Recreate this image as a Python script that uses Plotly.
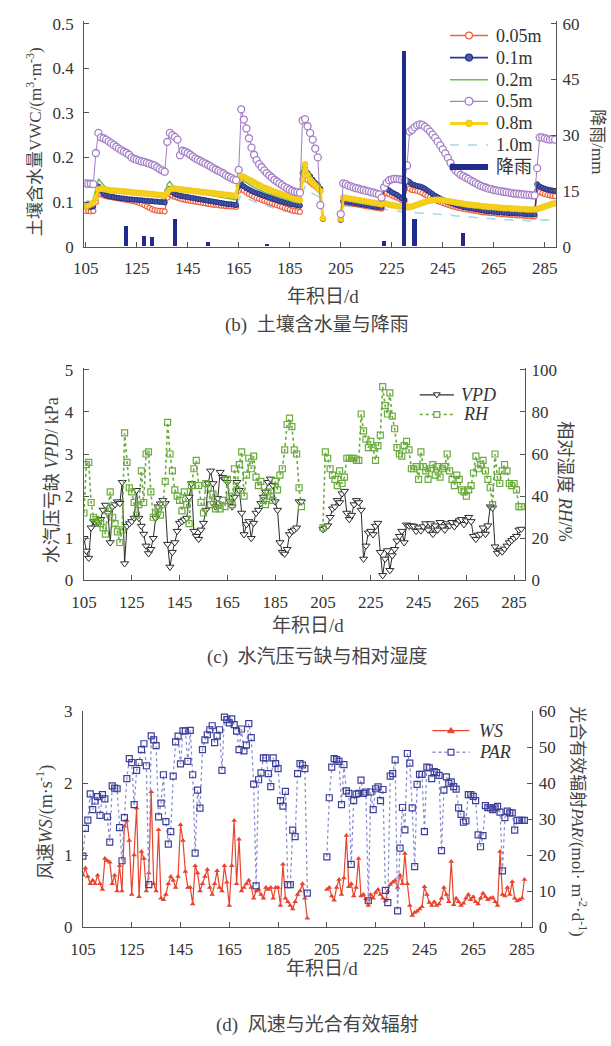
import plotly.graph_objects as go

W, H = 611, 1046
def fx(p): return p / W
def fy(p): return 1 - p / H

SERIF = "Liberation Serif, Times New Roman, Noto Sans CJK SC, serif"

# ---------------- panel (b) soil water content & rain ----------------
days_b_a = list(range(105, 199))   # 105..198
days_b_b = list(range(205, 290))   # 205..289

vwc_005_a = [0.080, 0.080, 0.079, 0.080, 0.100, 0.120, 0.118, 0.115, 0.113, 0.112,
             0.111, 0.110, 0.109, 0.108, 0.107, 0.106, 0.105, 0.104, 0.103, 0.102,
             0.100, 0.098, 0.096, 0.093, 0.090, 0.087, 0.084, 0.082, 0.081, 0.080,
             0.080, 0.079, 0.110, 0.118, 0.115, 0.112, 0.110, 0.108, 0.106, 0.105,
             0.104, 0.103, 0.102, 0.101, 0.100, 0.099, 0.098, 0.097, 0.096, 0.095,
             0.094, 0.094, 0.093, 0.092, 0.092, 0.091, 0.091, 0.090, 0.090, 0.089,
             0.125, 0.130, 0.126, 0.122, 0.118, 0.115, 0.112, 0.109, 0.107, 0.105,
             0.103, 0.101, 0.099, 0.097, 0.095, 0.093, 0.091, 0.089, 0.087, 0.085,
             0.083, 0.081, 0.080, 0.079, 0.078, 0.150, 0.160, 0.150, 0.145, 0.140,
             0.135, 0.130, 0.125, 0.062]
vwc_005_b = [0.060, 0.100, 0.099, 0.098, 0.097, 0.096, 0.095, 0.094, 0.093, 0.092,
             0.091, 0.090, 0.089, 0.088, 0.087, 0.086, 0.085, 0.118, 0.120, 0.118,
             0.115, 0.112, 0.110, 0.107, 0.104, 0.102, 0.135, 0.130, 0.127, 0.126,
             0.125, 0.123, 0.120, 0.117, 0.114, 0.111, 0.108, 0.105, 0.102, 0.100,
             0.098, 0.096, 0.094, 0.092, 0.090, 0.089, 0.087, 0.086, 0.085, 0.084,
             0.083, 0.082, 0.081, 0.080, 0.079, 0.078, 0.077, 0.077, 0.076, 0.075,
             0.075, 0.074, 0.074, 0.073, 0.073, 0.072, 0.072, 0.071, 0.071, 0.070,
             0.070, 0.070, 0.069, 0.069, 0.069, 0.068, 0.068, 0.125, 0.122, 0.120,
             0.118, 0.116, 0.115, 0.114, 0.113]

vwc_01_a = [0.090, 0.090, 0.089, 0.090, 0.110, 0.135, 0.125, 0.118, 0.115, 0.113,
            0.112, 0.111, 0.110, 0.109, 0.108, 0.108, 0.107, 0.106, 0.106, 0.105,
            0.105, 0.104, 0.104, 0.103, 0.103, 0.102, 0.102, 0.101, 0.101, 0.100,
            0.100, 0.099, 0.125, 0.130, 0.122, 0.118, 0.116, 0.114, 0.113, 0.112,
            0.111, 0.110, 0.109, 0.108, 0.107, 0.106, 0.105, 0.104, 0.103, 0.102,
            0.101, 0.100, 0.099, 0.098, 0.097, 0.096, 0.095, 0.095, 0.094, 0.093,
            0.135, 0.140, 0.135, 0.131, 0.128, 0.125, 0.122, 0.120, 0.118, 0.116,
            0.114, 0.112, 0.110, 0.108, 0.106, 0.104, 0.102, 0.101, 0.099, 0.098,
            0.096, 0.095, 0.094, 0.093, 0.092, 0.165, 0.175, 0.165, 0.158, 0.150,
            0.143, 0.138, 0.130, 0.062]
vwc_01_b = [0.060, 0.102, 0.101, 0.100, 0.099, 0.098, 0.097, 0.096, 0.095, 0.094,
            0.093, 0.092, 0.091, 0.090, 0.089, 0.089, 0.088, 0.133, 0.130, 0.126,
            0.122, 0.119, 0.116, 0.112, 0.108, 0.105, 0.148, 0.145, 0.140, 0.138,
            0.136, 0.135, 0.133, 0.130, 0.126, 0.122, 0.118, 0.114, 0.111, 0.108,
            0.105, 0.102, 0.100, 0.098, 0.096, 0.094, 0.092, 0.091, 0.089, 0.088,
            0.087, 0.086, 0.085, 0.084, 0.083, 0.082, 0.081, 0.080, 0.079, 0.079,
            0.078, 0.078, 0.077, 0.077, 0.076, 0.076, 0.075, 0.075, 0.075, 0.074,
            0.074, 0.074, 0.073, 0.073, 0.073, 0.072, 0.072, 0.140, 0.135, 0.132,
            0.130, 0.128, 0.127, 0.126, 0.125]

vwc_02_a = [0.100, 0.102, 0.100, 0.105, 0.130, 0.152, 0.145, 0.138, 0.132, 0.128,
            0.126, 0.125, 0.124, 0.123, 0.122, 0.122, 0.121, 0.120, 0.120, 0.119,
            0.118, 0.118, 0.117, 0.116, 0.115, 0.115, 0.114, 0.113, 0.112, 0.111,
            0.110, 0.109, 0.140, 0.146, 0.138, 0.132, 0.129, 0.127, 0.126, 0.125,
            0.124, 0.123, 0.122, 0.121, 0.120, 0.119, 0.118, 0.117, 0.116, 0.115,
            0.114, 0.113, 0.112, 0.111, 0.110, 0.109, 0.108, 0.107, 0.106, 0.105,
            0.145, 0.152, 0.147, 0.143, 0.139, 0.136, 0.133, 0.130, 0.127, 0.125,
            0.122, 0.120, 0.118, 0.116, 0.114, 0.112, 0.110, 0.108, 0.106, 0.105,
            0.103, 0.101, 0.100, 0.099, 0.098, 0.180, 0.188, 0.170, 0.160, 0.152,
            0.146, 0.140, 0.130, 0.063]
vwc_02_b = [0.062, 0.106, 0.105, 0.104, 0.103, 0.102, 0.101, 0.100, 0.099, 0.098,
            0.097, 0.096, 0.095, 0.094, 0.093, 0.092, 0.091, 0.100, 0.098, 0.096,
            0.094, 0.093, 0.092, 0.091, 0.090, 0.089, 0.095, 0.094, 0.093, 0.094,
            0.095, 0.096, 0.098, 0.099, 0.100, 0.101, 0.101, 0.101, 0.101, 0.100,
            0.099, 0.098, 0.097, 0.096, 0.095, 0.094, 0.093, 0.092, 0.091, 0.090,
            0.090, 0.089, 0.088, 0.088, 0.087, 0.086, 0.086, 0.085, 0.085, 0.084,
            0.084, 0.083, 0.083, 0.082, 0.082, 0.082, 0.081, 0.081, 0.081, 0.080,
            0.080, 0.080, 0.079, 0.079, 0.079, 0.079, 0.079, 0.085, 0.087, 0.088,
            0.089, 0.090, 0.091, 0.092, 0.093]

vwc_05_a = [0.142, 0.141, 0.141, 0.140, 0.210, 0.255, 0.245, 0.243, 0.240, 0.236,
            0.232, 0.228, 0.224, 0.220, 0.216, 0.213, 0.210, 0.206, 0.200, 0.197,
            0.195, 0.193, 0.191, 0.190, 0.188, 0.186, 0.184, 0.182, 0.178, 0.174,
            0.171, 0.168, 0.235, 0.255, 0.250, 0.246, 0.240, 0.205, 0.215, 0.213,
            0.210, 0.206, 0.202, 0.198, 0.195, 0.192, 0.189, 0.186, 0.183, 0.180,
            0.176, 0.173, 0.170, 0.167, 0.164, 0.160, 0.157, 0.154, 0.151, 0.149,
            0.172, 0.308, 0.285, 0.265, 0.243, 0.222, 0.206, 0.194, 0.185, 0.178,
            0.171, 0.165, 0.160, 0.155, 0.150, 0.146, 0.142, 0.138, 0.134, 0.131,
            0.128, 0.125, 0.123, 0.122, 0.121, 0.283, 0.286, 0.270, 0.255, 0.240,
            0.220, 0.200, 0.093, None]
vwc_05_b = [0.073, 0.142, 0.140, 0.137, 0.135, 0.133, 0.131, 0.130, 0.128, 0.127,
            0.125, 0.124, 0.122, 0.121, 0.119, 0.117, 0.110, 0.133, 0.143, 0.149,
            0.151, 0.152, 0.152, 0.151, 0.150, 0.148, 0.182, 0.258, 0.262, 0.268,
            0.272, 0.274, 0.273, 0.269, 0.264, 0.258, 0.251, 0.244, 0.236, 0.227,
            0.218, 0.209, 0.199, 0.188, 0.178, 0.171, 0.166, 0.161, 0.158, 0.155,
            0.152, 0.148, 0.145, 0.142, 0.139, 0.136, 0.134, 0.132, 0.130, 0.129,
            0.127, 0.126, 0.125, 0.124, 0.123, 0.122, 0.121, 0.120, 0.119, 0.119,
            0.118, 0.117, 0.117, 0.116, 0.116, 0.115, 0.115, 0.176, 0.245, 0.245,
            0.243, 0.241, 0.240, 0.241, 0.240]

vwc_08_a = [0.090, 0.092, 0.095, 0.098, 0.110, 0.128, 0.130, 0.129, 0.128, 0.127,
            0.126, 0.126, 0.125, 0.125, 0.124, 0.124, 0.123, 0.123, 0.122, 0.121,
            0.121, 0.120, 0.120, 0.119, 0.119, 0.118, 0.118, 0.117, 0.116, 0.116,
            0.115, 0.114, 0.122, 0.128, 0.130, 0.130, 0.129, 0.128, 0.128, 0.127,
            0.126, 0.126, 0.125, 0.124, 0.124, 0.123, 0.122, 0.122, 0.121, 0.120,
            0.120, 0.119, 0.118, 0.118, 0.117, 0.116, 0.116, 0.115, 0.114, 0.114,
            0.150, 0.158, 0.156, 0.153, 0.150, 0.147, 0.144, 0.141, 0.138, 0.135,
            0.132, 0.130, 0.128, 0.125, 0.123, 0.121, 0.119, 0.117, 0.115, 0.113,
            0.111, 0.109, 0.107, 0.105, 0.104, 0.150, 0.185, 0.160, 0.150, 0.143,
            0.137, 0.132, 0.125, 0.063]
vwc_08_b = [0.062, 0.110, 0.109, 0.108, 0.107, 0.106, 0.105, 0.104, 0.103, 0.102,
            0.101, 0.100, 0.099, 0.098, 0.097, 0.096, 0.095, 0.098, 0.096, 0.094,
            0.093, 0.092, 0.091, 0.090, 0.089, 0.088, 0.088, 0.089, 0.090, 0.092,
            0.094, 0.096, 0.098, 0.100, 0.102, 0.103, 0.104, 0.105, 0.105, 0.105,
            0.104, 0.103, 0.102, 0.101, 0.100, 0.099, 0.098, 0.097, 0.096, 0.095,
            0.094, 0.094, 0.093, 0.092, 0.092, 0.091, 0.090, 0.090, 0.089, 0.089,
            0.088, 0.088, 0.087, 0.087, 0.086, 0.086, 0.086, 0.085, 0.085, 0.085,
            0.084, 0.084, 0.084, 0.083, 0.083, 0.083, 0.083, 0.084, 0.086, 0.088,
            0.090, 0.092, 0.094, 0.096, 0.097]

vwc_10_a = [0.092, 0.093, 0.093, 0.094, 0.100, 0.110, 0.112, 0.112, 0.111, 0.111,
            0.110, 0.110, 0.109, 0.109, 0.108, 0.108, 0.107, 0.107, 0.106, 0.105,
            0.105, 0.104, 0.103, 0.103, 0.102, 0.101, 0.101, 0.100, 0.099, 0.099,
            0.098, 0.097, 0.100, 0.108, 0.107, 0.106, 0.105, 0.104, 0.103, 0.102,
            0.101, 0.100, 0.099, 0.098, 0.097, 0.096, 0.095, 0.094, 0.093, 0.092,
            0.091, 0.091, 0.090, 0.089, 0.089, 0.088, 0.087, 0.087, 0.086, 0.086,
            0.105, 0.115, 0.112, 0.109, 0.106, 0.103, 0.101, 0.099, 0.097, 0.095,
            0.093, 0.091, 0.089, 0.088, 0.086, 0.085, 0.083, 0.082, 0.080, 0.079,
            0.078, 0.077, 0.076, 0.075, 0.075, 0.120, 0.135, 0.128, 0.123, 0.119,
            0.116, 0.113, 0.110, None]
vwc_10_b = [None, 0.092, 0.091, 0.091, 0.090, 0.090, 0.089, 0.089, 0.088, 0.088,
            0.087, 0.087, 0.086, 0.086, 0.085, 0.085, 0.084, 0.084, 0.083, 0.083,
            0.082, 0.081, 0.080, 0.079, 0.078, 0.077, 0.077, 0.077, 0.076, 0.076,
            0.076, 0.075, 0.075, 0.075, 0.074, 0.074, 0.074, 0.073, 0.073, 0.072,
            0.072, 0.071, 0.071, 0.070, 0.070, 0.069, 0.069, 0.068, 0.068, 0.067,
            0.067, 0.066, 0.066, 0.065, 0.065, 0.064, 0.064, 0.063, 0.063, 0.062,
            0.062, 0.062, 0.061, 0.061, 0.061, 0.060, 0.060, 0.060, 0.059, 0.059,
            0.059, 0.058, 0.058, 0.058, 0.058, 0.057, 0.057, 0.058, 0.060, 0.060,
            0.060, 0.060, 0.059, 0.059, 0.059]

rain_days = [121, 128, 131, 140, 153, 176, 222, 230, 234, 253]
rain_mm = [5.4, 2.6, 2.4, 7.3, 1.2, 0.7, 1.3, 52.5, 7.3, 3.5]

# ---------------- panel (c) VPD & RH ----------------
days_c_a = list(range(105, 197))   # 105..196
days_c_b = list(range(205, 289))   # 205..288
vpd_a = [1.00, 0.70, 0.53, 1.25, 1.40, 1.36, 1.38, 1.45, 1.67, 1.79,
         1.60, 0.90, 1.75, 1.80, 1.87, 1.83, 2.33, 0.40, 1.29, 1.35,
         1.40, 1.48, 2.14, 1.48, 1.29, 1.10, 0.82, 0.64, 0.74, 1.00,
         1.48, 1.75, 1.82, 1.90, 1.83, 0.86, 0.32, 0.67, 0.90, 1.17,
         1.36, 1.40, 1.44, 1.48, 1.98, 2.30, 1.17, 1.05, 0.98, 1.20,
         1.36, 1.67, 2.30, 2.60, 2.30, 1.75, 1.95, 2.57, 2.45, 2.41,
         2.33, 1.87, 1.75, 1.98, 2.33, 2.14, 1.60, 1.09, 1.33, 1.40,
         1.00, 1.36, 1.60, 1.67, 1.83, 1.98, 2.10, 2.33, 2.41, 2.26,
         1.87, 1.67, 0.90, 0.67, 0.63, 0.74, 1.09, 1.17, 1.20, 1.25,
         1.87, 1.87]
vpd_b = [1.21, 1.25, 1.30, 1.50, 1.70, 1.75, 1.90, 1.85, 2.06, 2.12,
         1.60, 1.45, 1.55, 1.80, 1.90, 1.85, 1.67, 0.51, 0.82, 1.13,
         1.17, 1.09, 1.29, 1.36, 0.67, 0.12, 0.51, 0.71, 0.24, 0.59,
         0.74, 0.94, 1.05, 1.17, 0.90, 1.32, 1.29, 1.30, 1.29, 1.17,
         1.25, 1.18, 1.28, 1.35, 1.20, 1.35, 1.10, 1.30, 1.20, 1.38,
         1.28, 1.20, 1.35, 1.30, 1.38, 1.28, 1.35, 1.42, 1.45, 1.33,
         1.42, 1.50, 1.40, 1.05, 0.98, 1.08, 1.10, 1.25, 1.10, 1.30,
         1.75, 1.72, 0.80, 0.65, 0.72, 0.68, 0.75, 0.82, 0.90, 0.95,
         1.00, 1.05, 1.20, 1.22]
rh_a = [32, 55, 56, 37, 30, 29, 28, 27, 25, 22,
        33, 42, 30, 27, 23, 18, 24, 70, 56, 44,
        42, 37, 31, 36, 52, 37, 60, 61, 42, 30,
        32, 34, 31, 36, 47, 75, 60, 52, 43, 40,
        38, 33, 42, 36, 27, 45, 53, 57, 45, 37,
        32, 46, 44, 36, 41, 34, 36, 34, 38, 35,
        48, 40, 36, 53, 43, 55, 61, 40, 50, 58,
        53, 59, 49, 45, 47, 38, 36, 42, 40, 38,
        47, 43, 50, 53, 62, 74, 77, 73, 62, 60,
        44, 35]
rh_b = [25, 61, 58, 53, 50, 48, 45, 52, 46, 49,
        58, 58, 58, 58, 57, 57, 79, 71, 67, 63,
        66, 63, 57, 64, 69, 92, 83, 79, 89, 78,
        72, 63, 60, 59, 64, 66, 62, 53, 53, 54,
        48, 61, 54, 52, 48, 53, 55, 50, 54, 49,
        53, 54, 60, 52, 48, 45, 50, 48, 43, 42,
        40, 43, 45, 51, 59, 53, 55, 57, 52, 48,
        44, 36, 60, 49, 46, 52, 55, 52, 46, 45,
        46, 43, 35, 35]

# ---------------- panel (d) WS & PAR ----------------
days_d_a = list(range(105, 198))   # 105..197
days_d_b = list(range(205, 287))   # 205..286
ws_a = [0.72, 0.82, 0.70, 0.60, 0.65, 0.60, 0.72, 0.60, 0.52, 0.95,
        0.92, 0.90, 0.60, 0.72, 0.50, 0.85, 0.50, 1.40, 1.48, 1.20,
        0.45, 1.00, 1.65, 0.42, 1.05, 0.95, 0.50, 0.75, 1.88, 0.60,
        0.50, 1.35, 0.40, 0.38, 0.45, 0.60, 0.70, 0.65, 0.55, 0.70,
        1.42, 1.20, 0.77, 0.55, 0.55, 0.32, 0.85, 0.75, 0.50, 0.60,
        0.70, 0.80, 0.55, 0.45, 0.60, 0.78, 0.55, 0.50, 0.85, 0.62,
        0.30, 0.85, 1.48, 0.60, 1.22, 0.50, 0.55, 0.60, 0.65, 0.55,
        0.40, 0.50, 0.52, 0.45, 0.40, 0.55, 0.52, 0.55, 0.40, 0.55,
        0.55, 0.30, 0.87, 0.40, 0.35, 0.30, 0.25, 0.35, 0.45, 0.50,
        0.60, 0.40, 0.12]
ws_b = [0.52, 0.55, 0.43, 0.37, 0.55, 0.66, 0.45, 0.68, 1.27, 0.56,
        0.60, 0.43, 0.55, 0.95, 0.43, 0.45, 0.39, 0.30, 0.45, 0.40,
        0.48, 0.52, 0.45, 0.40, 0.36, 0.50, 0.59, 0.62, 0.65, 0.55,
        0.72, 0.60, 1.02, 0.60, 0.30, 0.16, 0.20, 0.22, 0.25, 0.28,
        0.56, 0.45, 0.34, 0.30, 0.35, 0.30, 0.32, 0.40, 0.55, 0.45,
        0.35, 0.91, 0.31, 0.40, 0.35, 0.30, 0.33, 0.40, 0.45, 0.38,
        0.42, 0.35, 0.32, 0.40, 0.47, 0.42, 0.38, 0.40, 0.41, 0.35,
        0.30, 1.05, 0.45, 0.43, 0.55, 0.45, 0.63, 0.40, 0.36, 0.38,
        0.40, 0.66]
par_a = [19.7, 27.4, 29.7, 37.0, 32.6, 35.0, 36.2, 31.0, 36.8, 35.6,
         30.6, 23.6, 39.2, 38.6, 38.4, 27.6, 18.4, 30.4, 41.2, 46.8,
         45.7, 34.0, 43.5, 45.7, 49.3, 50.9, 44.8, 11.8, 53.1, 52.0,
         50.4, 30.6, 34.4, 42.3, 29.3, 23.0, 26.5, 41.9, 51.4, 53.0,
         45.3, 54.5, 54.5, 46.0, 54.6, 42.3, 20.5, 38.0, 33.0, 49.3,
         52.0, 53.4, 54.8, 55.9, 51.2, 53.1, 54.8, 43.5, 58.3, 57.6,
         56.7, 57.8, 56.2, 54.4, 49.3, 55.0, 48.9, 50.5, 56.5, 52.6,
         39.7, 11.4, 40.9, 42.8, 47.0, 47.0, 42.6, 39.0, 47.0, 45.4,
         44.0, 35.1, 33.6, 37.7, 11.8, 11.8, 26.9, 25.1, 42.6, 45.4,
         45.0, 44.0, 9.4]
par_b = [19.5, 35.9, 44.4, 46.8, 46.5, 46.0, 34.0, 45.1, 37.8, 37.1,
         17.4, 35.1, 36.9, 37.1, 40.8, 37.1, 37.5, 7.3, 37.5, 32.6,
         38.4, 38.9, 35.1, 38.2, 10.2, 6.8, 41.9, 42.6, 46.4, 4.5,
         21.9, 33.2, 27.0, 48.2, 45.5, 33.1, 16.8, 39.6, 42.4, 42.4,
         26.5, 44.4, 44.2, 41.2, 43.2, 42.9, 42.1, 21.2, 38.0, 41.7,
         39.9, 40.3, 39.0, 38.3, 33.1, 31.3, 29.1, 29.5, 36.8, 36.8,
         36.3, 35.1, 25.6, 22.3, 25.4, 33.7, 33.2, 33.1, 32.6, 33.1,
         33.5, 31.9, 15.6, 30.4, 32.2, 31.7, 31.7, 26.9, 29.6, 29.6,
         29.6, 29.6]

x_ticks = [105, 125, 145, 165, 185, 205, 225, 245, 265, 285]

# colours
C005, C01, C01F, C02, C05, C08, C10, CRAIN = ("#f0603c", "#2c3a94", "#4a58ad", "#6cbd55",
                                              "#a47ec6", "#f8d21c", "#a6d8ea", "#1f2c8c")
CVPD, CRH, CWS, CPAR, CPARL = "#2a2a2a", "#6aab3d", "#e8432c", "#3d3f98", "#8c90d2"


def join(a, b):
    return a + [None] + b


fig = go.Figure()

# ---- panel b traces ----
xb = join(days_b_a, days_b_b)
fig.add_trace(go.Scatter(x=xb, y=join(vwc_10_a, vwc_10_b), name="1.0m", mode="lines",
                         line=dict(color=C10, width=1.6, dash="dash"), xaxis="x", yaxis="y"))
fig.add_trace(go.Scatter(x=xb, y=join(vwc_005_a, vwc_005_b), name="0.05m", mode="lines+markers",
                         line=dict(color=C005, width=1.2),
                         marker=dict(symbol="circle", size=5, color="white", line=dict(color=C005, width=1.2)),
                         xaxis="x", yaxis="y"))
fig.add_trace(go.Scatter(x=xb, y=join(vwc_01_a, vwc_01_b), name="0.1m", mode="lines+markers",
                         line=dict(color=C01, width=1.5),
                         marker=dict(symbol="circle", size=5, color=C01F, line=dict(color="#25307f", width=1)),
                         xaxis="x", yaxis="y"))
fig.add_trace(go.Scatter(x=xb, y=join(vwc_02_a, vwc_02_b), name="0.2m", mode="lines",
                         line=dict(color=C02, width=1.5), xaxis="x", yaxis="y"))
fig.add_trace(go.Scatter(x=xb, y=join(vwc_08_a, vwc_08_b), name="0.8m", mode="lines+markers",
                         line=dict(color=C08, width=3),
                         marker=dict(symbol="circle", size=6, color=C08, line=dict(color="#e6be10", width=0.5)),
                         xaxis="x", yaxis="y"))
fig.add_trace(go.Scatter(x=xb, y=join(vwc_05_a, vwc_05_b), name="0.5m", mode="lines+markers",
                         line=dict(color=C05, width=1),
                         marker=dict(symbol="circle", size=7, color="white", line=dict(color=C05, width=1.3)),
                         xaxis="x", yaxis="y"))
fig.add_trace(go.Bar(x=rain_days, y=rain_mm, width=1.6, marker=dict(color=CRAIN, line=dict(width=0)),
                     name="降雨", xaxis="x", yaxis="y2"))

# ---- panel c traces ----
xc = join(days_c_a, days_c_b)
fig.add_trace(go.Scatter(x=xc, y=join(vpd_a, vpd_b), name="VPD", mode="lines+markers",
                         line=dict(color=CVPD, width=1),
                         marker=dict(symbol="triangle-down", size=7, color="white", line=dict(color=CVPD, width=1)),
                         xaxis="x2", yaxis="y3"))
fig.add_trace(go.Scatter(x=xc, y=join(rh_a, rh_b), name="RH", mode="lines+markers",
                         line=dict(color=CRH, width=1.6, dash="dot"),
                         marker=dict(symbol="square-open", size=6, color=CRH, line=dict(width=1.2)),
                         xaxis="x2", yaxis="y4"))

# ---- panel d traces ----
xd = join(days_d_a, days_d_b)
fig.add_trace(go.Scatter(x=xd, y=join(ws_a, ws_b), name="WS", mode="lines+markers",
                         line=dict(color=CWS, width=1.2),
                         marker=dict(symbol="triangle-up", size=5, color=CWS),
                         xaxis="x3", yaxis="y5"))
fig.add_trace(go.Scatter(x=xd, y=join(par_a, par_b), name="PAR", mode="lines+markers",
                         line=dict(color=CPARL, width=1.3, dash="dot"),
                         marker=dict(symbol="square-open", size=6, color=CPAR, line=dict(width=1.2)),
                         xaxis="x3", yaxis="y6"))

AXC = "#555555"
TICKF = dict(family=SERIF, size=17, color="#333333")


def xax(dom, rng, anchor):
    return dict(domain=dom, range=rng, anchor=anchor, tickmode="array", tickvals=x_ticks,
                ticks="inside", ticklen=5, tickcolor=AXC, showline=True, linecolor=AXC,
                linewidth=1.2, showgrid=False, zeroline=False, tickfont=TICKF,
                ticklabelstandoff=6, fixedrange=True)


def yax(dom, rng, dtick, side="left", overlay=None, anchor=None):
    d = dict(range=rng, dtick=dtick, tick0=0, ticks="inside", ticklen=5, tickcolor=AXC,
             showline=True, linecolor=AXC, linewidth=1.2, showgrid=False, zeroline=False,
             tickfont=TICKF, side=side, anchor=anchor, fixedrange=True,
             ticklabelstandoff=(2 if side == "right" else 6))
    if overlay:
        d["overlaying"] = overlay
    else:
        d["domain"] = dom
    return d


fig.update_layout(
    width=W, height=H, margin=dict(l=0, r=0, t=0, b=0),
    paper_bgcolor="white", plot_bgcolor="white", showlegend=False,
    xaxis=xax([fx(73), fx(556.7)], [104.43, 289.4], "y"),
    yaxis=yax([fy(242), fy(12.7)], [0, 0.505], 0.1, anchor="x"),
    yaxis2=yax(None, [0, 60.6], 15, side="right", overlay="y", anchor="x"),
    xaxis2=xax([fx(72.5), fx(525)], [104.9, 289.6], "y3"),
    yaxis3=yax([fy(582), fy(365.7)], [0, 5.04], 1, anchor="x2"),
    yaxis4=yax(None, [0, 100.8], 20, side="right", overlay="y3", anchor="x2"),
    xaxis3=xax([fx(71.7), fx(532.3)], [105, 289.2], "y5"),
    yaxis5=yax([fy(935), fy(715)], [0, 3.0], 1, anchor="x3"),
    yaxis6=yax(None, [0, 60], 10, side="right", overlay="y5", anchor="x3"),
    bargap=0,
)
fig.layout.yaxis.tickmode = "array"
fig.layout.yaxis.tickvals = [0, 0.1, 0.2, 0.3, 0.4, 0.5]
fig.layout.yaxis.ticktext = ["0", "0.1", "0.2", "0.3", "0.4", "0.5"]

TF = "Liberation Serif, Noto Sans CJK SC, serif"
TC = "#444444"


def ann(text, x, y, size=18, angle=0, anchor="center", color=TC):
    fig.add_annotation(text=text, x=fx(x), y=fy(y), xref="paper", yref="paper",
                       showarrow=False, textangle=angle, xanchor=anchor, yanchor="middle",
                       font=dict(family=TF, size=size, color=color))


# ---------- legend glyphs (paper-space, drawn as shapes) ----------
def lg_line(x0, x1, y, color, width, dash="solid"):
    fig.add_shape(type="line", xref="paper", yref="paper", x0=fx(x0), x1=fx(x1), y0=fy(y), y1=fy(y),
                  line=dict(color=color, width=width, dash=dash), layer="above")


def lg_circle(cx, cy, r, fill, color, width):
    fig.add_shape(type="circle", xref="paper", yref="paper", x0=fx(cx - r), x1=fx(cx + r),
                  y0=fy(cy + r), y1=fy(cy - r), fillcolor=fill,
                  line=dict(color=color, width=width), layer="above")


def lg_rect(cx, cy, r, color, width):
    fig.add_shape(type="rect", xref="paper", yref="paper", x0=fx(cx - r), x1=fx(cx + r),
                  y0=fy(cy + r), y1=fy(cy - r), fillcolor="white",
                  line=dict(color=color, width=width), layer="above")


def lg_tri(cx, cy, s, down, fill, color, width):
    if down:
        pts = [(cx - s, cy - 0.6 * s), (cx + s, cy - 0.6 * s), (cx, cy + 0.9 * s)]
    else:
        pts = [(cx - s, cy + 0.6 * s), (cx + s, cy + 0.6 * s), (cx, cy - 0.9 * s)]
    path = "M " + " L ".join(f"{fx(px):.5f},{fy(py):.5f}" for px, py in pts) + " Z"
    fig.add_shape(type="path", xref="paper", yref="paper", path=path, fillcolor=fill,
                  line=dict(color=color, width=width), layer="above")


# panel b legend
LX0, LX1, LXT = 448, 487, 493
LM = (LX0 + LX1) / 2
ly = [27, 49.5, 72, 94, 116.5, 138.5, 161]
lg_line(LX0, LX1, ly[0], C005, 1.3); lg_circle(LM, ly[0], 3.5, "white", C005, 1.3)
lg_line(LX0, LX1, ly[1], C01, 1.6); lg_circle(LM, ly[1], 3.5, C01F, "#25307f", 1.2)
lg_line(LX0, LX1, ly[2], C02, 1.5)
lg_line(LX0, LX1, ly[3], C05, 1.2); lg_circle(LM, ly[3], 4, "white", C05, 1.3)
lg_line(LX0, LX1, ly[4], C08, 3); lg_circle(LM, ly[4], 3.5, C08, "#e6be10", 0.8)
lg_line(LX0, LX1, ly[5], C10, 1.6, "dash")
lg_line(LX0, LX1, ly[6], CRAIN, 6)
for name, yy in zip(["0.05m", "0.1m", "0.2m", "0.5m", "0.8m", "1.0m", "降雨"], ly):
    ann(name, LXT, yy, 18, anchor="left", color="#333333")

# panel c legend
lg_line(417, 452, 393, CVPD, 1.1); lg_tri(434.5, 393, 3.5, True, "white", CVPD, 1)
lg_line(417, 452, 413, CRH, 1.6, "dot"); lg_rect(434.5, 413, 3, CRH, 1.2)
ann("<i>VPD</i>", 457, 393, 18, anchor="left", color="#333333")
ann("<i>RH</i>", 459, 413, 18, anchor="left", color="#333333")

# panel d legend
lg_line(430, 468, 735, CWS, 1.3); lg_tri(449, 735, 3.5, False, CWS, CWS, 1)
lg_line(430, 468, 757, CPARL, 1.4, "dot"); lg_rect(449, 757, 3, CPAR, 1.2)
ann("<i>WS</i>", 476, 735, 18, anchor="left", color="#333333")
ann("<i>PAR</i>", 476, 757, 18, anchor="left", color="#333333")

# ---------- axis titles and captions ----------
ann("土壤含水量VWC/(m<sup>3</sup>·m<sup>-3</sup>)", 21, 135, 17, -90)
ann("降雨/mm", 599, 135, 17, 90)
ann("年积日/d", 318, 293, 19)
ann("(b)  土壤含水量与降雨", 312, 322, 19)

ann("水汽压亏缺 <i>VPD</i>/ kPa", 40, 480, 18, -90)
ann("相对湿度 <i>RH</i>/%", 566, 481, 18, 90)
ann("年积日/d", 302, 628, 19)
ann("(c)  水汽压亏缺与相对湿度", 312, 660, 19)

ann("风速<i>WS</i>/(m·s<sup>-1</sup>)", 33, 828, 18, -90)
ann("光合有效辐射<i>PAR</i>/(mol· m<sup>-2</sup>·d<sup>-1</sup>)", 580, 828, 17, 90)
ann("年积日/d", 317, 977, 19)
ann("(d)  风速与光合有效辐射", 312, 1035, 19)

fig.write_html("out.html", config={"displayModeBar": False, "staticPlot": False},
               post_script="document.body.style.margin='0px';document.body.style.padding='0px';")
